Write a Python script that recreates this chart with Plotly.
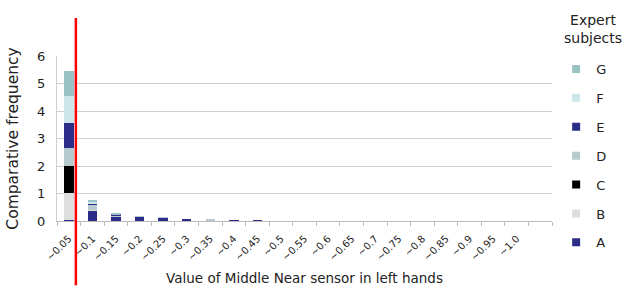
import plotly.graph_objects as go

categories = ["~0.05", "~0.1", "~0.15", "~0.2", "~0.25", "~0.3", "~0.35", "~0.4", "~0.45", "~0.5",
              "~0.55", "~0.6", "~0.65", "~0.7", "~0.75", "~0.8", "~0.85", "~0.9", "~0.95", "~1.0", " "]

subj_A = [0.03, 0.37, 0.15, 0.15, 0.13, 0.08, 0.03, 0.01, 0.01, 0, 0, 0, 0, 0, 0, 0, 0, 0, 0, 0, 0]
subj_B = [1.00, 0.02, 0.01, 0.01, 0.00, 0.00, 0.00, 0.00, 0.00, 0, 0, 0, 0, 0, 0, 0, 0, 0, 0, 0, 0]
subj_C = [0.97, 0.00, 0.00, 0.00, 0.00, 0.00, 0.00, 0.00, 0.00, 0, 0, 0, 0, 0, 0, 0, 0, 0, 0, 0, 0]
subj_D = [0.67, 0.22, 0.05, 0.01, 0.01, 0.00, 0.01, 0.00, 0.00, 0, 0, 0, 0, 0, 0, 0, 0, 0, 0, 0, 0]
subj_E = [0.90, 0.04, 0.02, 0.00, 0.00, 0.00, 0.00, 0.00, 0.00, 0, 0, 0, 0, 0, 0, 0, 0, 0, 0, 0, 0]
subj_F = [0.98, 0.06, 0.01, 0.00, 0.00, 0.00, 0.00, 0.00, 0.00, 0, 0, 0, 0, 0, 0, 0, 0, 0, 0, 0, 0]
subj_G = [0.89, 0.06, 0.02, 0.00, 0.00, 0.00, 0.00, 0.00, 0.00, 0, 0, 0, 0, 0, 0, 0, 0, 0, 0, 0, 0]

series = [
    ("A", subj_A, "#2b2d88"),
    ("B", subj_B, "#dedede"),
    ("C", subj_C, "#000000"),
    ("D", subj_D, "#b5cbcd"),
    ("E", subj_E, "#2b2d88"),
    ("F", subj_F, "#cbe7e9"),
    ("G", subj_G, "#9cc3c4"),
]

FONT = "DejaVu Sans"
TXT = "#222222"

fig = go.Figure()
n = len(series)
for i, (name, vals, col) in enumerate(series):
    fig.add_trace(go.Bar(x=categories, y=vals, name=name, marker=dict(color=col, line=dict(width=0)),
                         showlegend=False))
# legend-only entries with small square swatches (top: G ... bottom: A)
for i, (name, vals, col) in enumerate(series):
    fig.add_trace(go.Scatter(x=[None], y=[None], mode="markers", name=name,
                             marker=dict(symbol="square", size=8, color=col),
                             legendgroup=name, legendrank=n - i, showlegend=True))

fig.update_layout(
    barmode="stack",
    bargap=0.6,
    width=627, height=289,
    margin=dict(l=57, r=75, t=56, b=68, autoexpand=False),
    paper_bgcolor="white", plot_bgcolor="white",
    font=dict(family=FONT, color=TXT),
    legend=dict(
        traceorder="grouped",
        xref="container", yref="container",
        x=0.887, y=1 - 54 / 289, xanchor="left", yanchor="top",
        font=dict(size=13, family=FONT, color=TXT),
        tracegroupgap=9,
        itemwidth=30,
        maxheight=289,
        bgcolor="rgba(0,0,0,0)",
    ),
    showlegend=True,
    annotations=[dict(text="Expert<br>subjects", xref="paper", yref="paper",
                      x=1.082, y=1.161, xanchor="center", yanchor="middle", showarrow=False,
                      align="center", font=dict(size=14, family=FONT, color=TXT))],
)

fig.update_xaxes(
    type="category",
    tickangle=-45,
    tickfont=dict(size=10, family=FONT, color=TXT),
    ticklabelstandoff=7,
    tickson="boundaries",
    ticks="outside", ticklen=4, tickcolor="#bbbbbb",
    showline=True, linecolor="#bbbbbb", linewidth=1,
    showgrid=False,
    title=dict(text="Value of Middle Near sensor in left hands", font=dict(size=13.5, family=FONT, color=TXT),
               standoff=11),
)
fig.update_yaxes(
    range=[0, 6], dtick=1,
    tickfont=dict(size=13, family=FONT, color=TXT),
    showgrid=True, gridcolor="#d0d0d0",
    showline=True, linecolor="#d0d0d0",
    zeroline=False,
    ticks="", ticklen=0,
    ticklabelstandoff=8,
    title=dict(text="Comparative frequency", font=dict(size=15.5, family=FONT, color=TXT), standoff=14),
)

# red marker line between the first and second class
fig.add_shape(type="line", xref="x", yref="paper", x0=0.3, x1=0.3, y0=-0.39, y1=1.23,
              line=dict(color="#ff0000", width=2.5))

fig.write_html("out.html", config={"displayModeBar": False},
               post_script="document.body.style.margin='0';")
